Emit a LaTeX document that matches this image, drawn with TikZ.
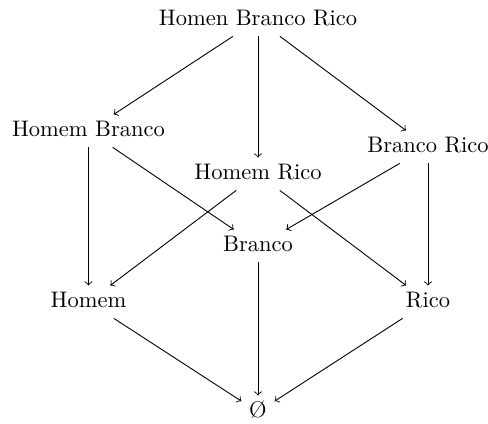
\documentclass[tikz,border=0pt]{standalone}
\usepackage{fontspec}
\begin{document}
\begin{tikzpicture}[x=0.4444pt,y=-0.4444pt,
  setnode/.style={anchor=base,inner sep=0.3333em,text height=1.5ex,text depth=0.25ex},
  incl/.style={->,line width=0.4pt}]
\useasboundingbox (0,0) rectangle (488,424);
% lattice of subsets
\node[setnode] (hbr) at (258,26)  {Homen Branco Rico};
\node[setnode] (hb)  at (88.5,137) {Homem Branco};
\node[setnode] (hr)  at (258,180) {Homem Rico};
\node[setnode] (br)  at (428,153) {Branco Rico};
\node[setnode] (b)   at (258,252) {Branco};
\node[setnode] (h)   at (88.5,308) {Homem};
\node[setnode] (r)   at (428,308) {Rico};
\node[setnode] (e)   at (258,418) {Ø};
% inclusion arrows
\draw[incl] (hbr) -- (hb);
\draw[incl] (hbr) -- (hr);
\draw[incl] (hbr) -- (br);
\draw[incl] (hb) -- (h);
\draw[incl] (hb) -- (b);
\draw[incl] (hr) -- (h);
\draw[incl] (hr) -- (r);
\draw[incl] (br) -- (b);
\draw[incl] (br) -- (r);
\draw[incl] (b) -- (e);
\draw[incl] (h) -- (e);
\draw[incl] (r) -- (e);
\end{tikzpicture}
\end{document}
